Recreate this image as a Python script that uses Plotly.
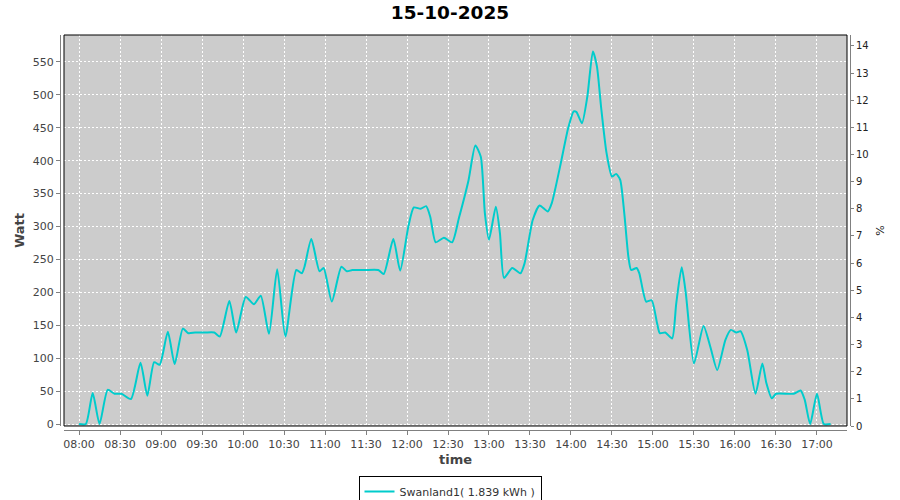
import plotly.graph_objects as go

DAY = "2025-10-15"
title_text = "15-10-2025"
series_name = "Swanland1( 1.839 kWh )"

times = ["08:00", "08:05", "08:10", "08:15", "08:21", "08:26", "08:31", "08:38", "08:45", "08:50",
         "08:55", "08:59", "09:05", "09:10", "09:16", "09:20", "09:25", "09:32", "09:39", "09:43",
         "09:50", "09:55", "10:02", "10:08", "10:13", "10:19", "10:25", "10:31", "10:39", "10:43",
         "10:45", "10:50", "10:56", "10:59", "11:05", "11:12", "11:16", "11:20", "11:29", "11:39",
         "11:43", "11:50", "11:55", "12:01", "12:05", "12:10", "12:14", "12:17", "12:21", "12:27",
         "12:33", "12:38", "12:45", "12:50", "12:54", "12:57", "13:00", "13:05", "13:08", "13:11",
         "13:17", "13:23", "13:26", "13:32", "13:37", "13:43", "13:46", "13:52", "13:58", "14:02",
         "14:04", "14:08", "14:12", "14:16", "14:19", "14:22", "14:26", "14:30", "14:33", "14:36",
         "14:39", "14:42", "14:44", "14:48", "14:50", "14:55", "14:59", "15:03", "15:05", "15:09",
         "15:14", "15:17", "15:21", "15:24", "15:30", "15:37", "15:42", "15:47", "15:53", "15:57",
         "16:01", "16:04", "16:09", "16:15", "16:20", "16:23", "16:27", "16:30", "16:43", "16:48",
         "16:51", "16:55", "17:00", "17:05", "17:10"]

watts = [0, 0, 47, 0, 52, 46, 46, 38, 93, 43,
         94, 90, 140, 91, 145, 138, 139, 139, 139, 133,
         187, 139, 193, 182, 195, 137, 235, 133, 234, 229,
         239, 281, 232, 237, 186, 239, 232, 234, 234, 234,
         228, 281, 233, 300, 329, 327, 331, 315, 276, 283,
         276, 313, 370, 423, 406, 320, 280, 330, 290, 222,
         237, 229, 244, 310, 332, 323, 336, 391, 450, 475,
         474, 457, 498, 566, 543, 482, 412, 376, 380, 371,
         320, 254, 234, 237, 229, 186, 188, 153, 138, 139,
         130, 183, 238, 199, 92, 149, 117, 82, 128, 143,
         139, 141, 112, 46, 92, 62, 39, 46, 46, 51,
         37, 0, 46, 0, 0]

x_tick_vals = ["08:00", "08:30", "09:00", "09:30", "10:00", "10:30", "11:00", "11:30", "12:00",
               "12:30", "13:00", "13:30", "14:00", "14:30", "15:00", "15:30", "16:00", "16:30", "17:00"]
y_ticks = list(range(0, 551, 50))
pct_ticks = list(range(0, 15))

x_full = [f"{DAY} {t}" for t in times]
FONT = "DejaVu Sans"

FIG_W, FIG_H = 900, 500
W0, W1 = 60, 850      # axis line positions (px)
H0, H1 = 35, 430
xd0 = (64 - W0) / (W1 - W0)
xd1 = (847 - W0) / (W1 - W0)
yd0 = (H1 - 426) / (H1 - H0)

fig = go.Figure()
fig.add_trace(go.Scatter(
    x=x_full, y=watts, mode="lines", name=series_name,
    line=dict(color="#00CCCC", width=2, shape="spline", smoothing=0.6),
))
# secondary (percent) axis holder, no visible marks
fig.add_trace(go.Scatter(x=[], y=[], yaxis="y2", showlegend=False, hoverinfo="skip"))

fig.update_layout(
    width=FIG_W, height=FIG_H,
    margin=dict(l=W0, r=FIG_W - W1, t=H0, b=FIG_H - H1, pad=0, autoexpand=False),
    paper_bgcolor="white",
    plot_bgcolor="#CCCCCC",
    font=dict(family=FONT, size=11, color="#444444"),
    title=dict(text=f"<b>{title_text}</b>", x=0.5, xanchor="center",
               y=1 - 13 / FIG_H, yanchor="middle",
               font=dict(family=FONT, size=18.5, color="black")),
    showlegend=True,
    legend=dict(orientation="h", x=(450 - W0) / (W1 - W0), xanchor="center",
                y=(H1 - 476) / (H1 - H0), yanchor="top",
                bordercolor="black", borderwidth=1, bgcolor="white", itemwidth=30,
                font=dict(family=FONT, size=11, color="#333333"),
                tracegroupgap=0),
    xaxis=dict(
        type="date", domain=[xd0, xd1], anchor="free", position=0, automargin=False,
        range=[f"{DAY} 07:49:01", f"{DAY} 17:21:58"],
        tickvals=[f"{DAY} {t}" for t in x_tick_vals], ticktext=x_tick_vals,
        ticks="outside", ticklen=4, tickcolor="#808080",
        showline=True, linecolor="#808080", linewidth=1,
        showgrid=True, gridcolor="white", gridwidth=1, griddash="2px,2px",
        zeroline=False,
        tickfont=dict(family=FONT, size=11, color="#444444"),
        title=dict(text="<b>time</b>", font=dict(family=FONT, size=13, color="#444444"), standoff=4),
    ),
    yaxis=dict(
        domain=[yd0, 1], anchor="free", position=0, automargin=False,
        range=[-3, 591], tickvals=y_ticks,
        ticks="outside", ticklen=4, tickcolor="#808080",
        showline=True, linecolor="#808080", linewidth=1,
        showgrid=True, gridcolor="white", gridwidth=1, griddash="2px,2px",
        zeroline=False,
        tickfont=dict(family=FONT, size=11, color="#444444"),
        title=dict(text="<b>Watt</b>", font=dict(family=FONT, size=13, color="#444444"), standoff=4),
    ),
    yaxis2=dict(
        overlaying="y", side="right", anchor="free", position=1, automargin=False,
        range=[0, 14.4], tickvals=pct_ticks,
        ticks="outside", ticklen=3, tickcolor="#808080",
        showline=True, linecolor="#808080", linewidth=1,
        showgrid=False, zeroline=False,
        tickfont=dict(family=FONT, size=10, color="#222222"),
        title=dict(text="%", font=dict(family=FONT, size=11, color="#222222"), standoff=8),
    ),
    shapes=[dict(type="rect", xref="x domain", yref="y domain", x0=0, x1=1, y0=0, y1=1,
                 line=dict(color="black", width=1), fillcolor="rgba(0,0,0,0)", layer="above")],
)

# remove the default 8px page margin so the figure sits at the window origin
fig.write_html("out.html", config={"displayModeBar": False},
               post_script="document.body.style.margin='0';")
